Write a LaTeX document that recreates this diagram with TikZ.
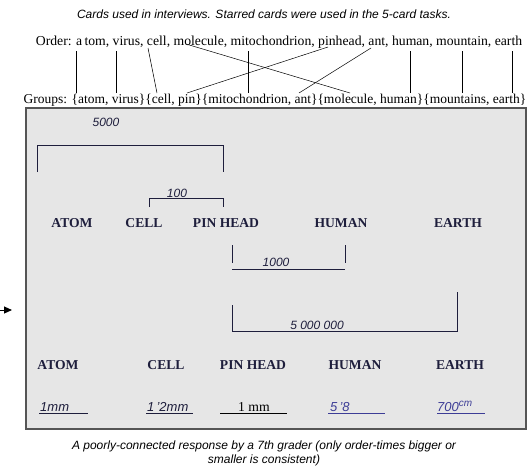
\documentclass[tikz,border=0pt]{standalone}
\usepackage{fontspec}
\setmainfont{Liberation Serif}
\setsansfont{Liberation Sans}
\usetikzlibrary{arrows.meta}
\definecolor{boxgray}{HTML}{E6E6E6}
\definecolor{boxedge}{HTML}{555555}
\definecolor{inkblue}{HTML}{3C3C96}
\definecolor{inkdark}{HTML}{1E1E3C}
\begin{document}
\begin{tikzpicture}[x=1pt,y=-1pt,
		note/.style={font=\sffamily\itshape\fontsize{12}{13}\selectfont, inner sep=0pt},
		typed/.style={font=\fontsize{13.7}{15}\selectfont, inner sep=0pt},
		card/.style={font=\bfseries\fontsize{13.6}{15}\selectfont, inner sep=0pt, text=inkdark},
		hand/.style={font=\sffamily\itshape\fontsize{12}{13}\selectfont, inner sep=0pt, text=inkdark},
		inkline/.style={line width=0.9pt, inkdark}]
			\useasboundingbox (0,0) rectangle (529,467);
			
			% header
			\node[note] (title) at (264,14) {Cards used in interviews. Starred cards were used in the 5-card tasks.};
			\node[typed] (order) at (279,42) {Order: a\,tom, virus, cell, molecule, mitochondrion, pinhead, ant, human, mountain, earth};
			\node[typed, font=\fontsize{13.5}{15}\selectfont] (groups) at (275,100) {Groups: \{atom, virus\}\{cell, pin\}\{mitochondrion, ant\}\{molecule, human\}\{mountains, earth\}};
			
			% ends of the order-to-group lines
			\coordinate (o1) at (76,51);   \coordinate (g1) at (76,93);
			\coordinate (o2) at (116,51);  \coordinate (g2) at (116,93);
			\coordinate (o3) at (148,48);  \coordinate (g3) at (157,93);
			\coordinate (o4) at (186,44);  \coordinate (g4) at (350,93);
			\coordinate (o5) at (248,51);  \coordinate (g5) at (248,93);
			\coordinate (o6) at (328,47);  \coordinate (g6) at (187,93);
			\coordinate (o7) at (371,48);  \coordinate (g7) at (299,93);
			\coordinate (o8) at (410,51);  \coordinate (g8) at (410,93);
			\coordinate (o9) at (462,51);  \coordinate (g9) at (462,93);
			\coordinate (o10) at (512,51); \coordinate (g10) at (512,93);
			\foreach \i in {1,...,10}
				\draw[line width=0.5pt] (o\i) -- (g\i);
			
			% the response sheet
			\draw[fill=boxgray, draw=boxedge, line width=1.4pt] (26,108) rectangle (526,429);
			\draw[-{Triangle[length=8pt,width=7pt]}, line width=1pt] (-4,310) -- (12,310);
			
			% upper row of cards
			\node[card] (atomA) at (72,223) {ATOM};
			\node[card] (cellA) at (144,223) {CELL};
			\node[card] (pinA) at (226,223) {PIN HEAD};
			\node[card] (humanA) at (341,223) {HUMAN};
			\node[card] (earthA) at (458,223) {EARTH};
			
			% brackets drawn over the cards
			\draw[inkline] (37,172) -- (37,145) -- (223,145) -- (223,172);
			\node[hand] (h5000) at (106,122) {5000};
			\draw[inkline] (149,207) -- (149,198) -- (223,198) -- (223,207);
			\node[hand] (h100) at (177,193) {100};
			\draw[inkline] (232,245) -- (232,263);
			\draw[inkline] (345,245) -- (345,263);
			\draw[inkline] (232,269) -- (345,269);
			\node[hand] (h1000) at (276,262) {1000};
			\draw[inkline] (232,305) -- (232,331) -- (457,331) -- (457,292);
			\node[hand] (h5m) at (317,325) {5 000 000};
			
			% lower row of cards
			\node[card] (atomB) at (58,365) {ATOM};
			\node[card] (cellB) at (166,365) {CELL};
			\node[card] (pinB) at (253,365) {PIN HEAD};
			\node[card] (humanB) at (355,365) {HUMAN};
			\node[card] (earthB) at (460,365) {EARTH};
			
			% sizes written under the cards
			\node[hand, anchor=base west, font=\sffamily\itshape\fontsize{13}{14}\selectfont] (sAtom) at (40,411) {1mm};
			\draw[inkline, line width=0.6pt] (39,413) -- (88,413);
			\node[hand, anchor=base west, font=\sffamily\itshape\fontsize{13}{14}\selectfont] (sCell) at (147,411) {1\,'2mm};
			\draw[inkline, line width=0.6pt] (146,413) -- (193,413);
			\node[typed, anchor=base] (sPin) at (254,411) {1 mm};
			\draw[line width=0.6pt] (220,413) -- (287,413);
			\node[hand, text=inkblue, anchor=base west, font=\sffamily\itshape\fontsize{13}{14}\selectfont] (sHuman) at (330,411) {5\,'8};
			\draw[inkblue, line width=0.6pt] (328,413) -- (385,413);
			\node[hand, text=inkblue, anchor=base west, font=\sffamily\itshape\fontsize{13}{14}\selectfont] (sEarth) at (437,411) {700\raisebox{5pt}{\fontsize{10}{11}\selectfont cm}};
			\draw[inkblue, line width=0.6pt] (437,413) -- (485,413);
			
			% caption
			\node[note] (cap1) at (264,446) {A poorly-connected response by a 7th grader (only order-times bigger or};
			\node[note] (cap2) at (264,460) {smaller is consistent)};
		\end{tikzpicture}
\end{document}
